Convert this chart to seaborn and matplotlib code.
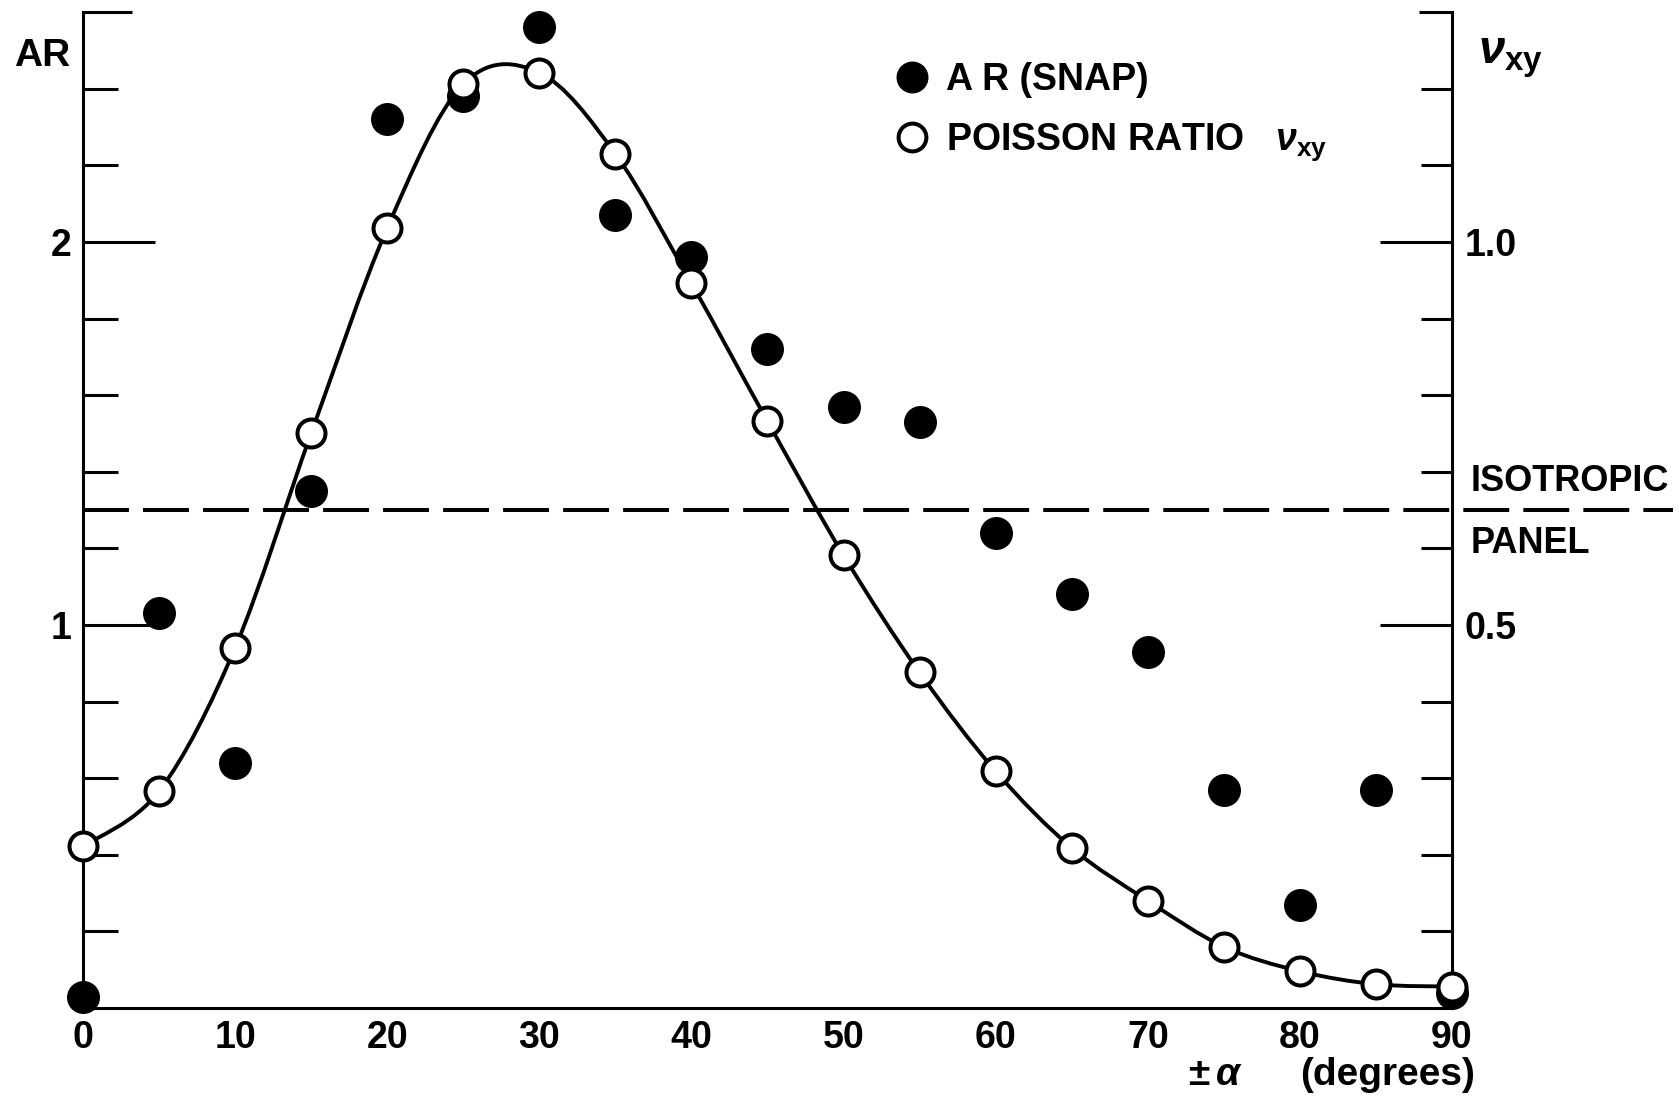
import numpy as np
import pandas as pd
import matplotlib
matplotlib.use("Agg")
import matplotlib.pyplot as plt
import seaborn as sns
from matplotlib.path import Path
from matplotlib.patches import PathPatch
from matplotlib.lines import Line2D

# Fibre angle (degrees) and measured quantities
angle_deg = [0, 5, 10, 15, 20, 25, 30, 35, 40, 45, 50, 55, 60, 65, 70, 75, 80, 85, 90]
ar_snap = [0.03, 1.03, 0.64, 1.35, 2.32, 2.38, 2.56, 2.07, 1.96, 1.72, 1.57, 1.53,
           1.24, 1.08, 0.93, 0.57, 0.27, 0.57, 0.04]
poisson_nu = [0.211, 0.283, 0.470, 0.750, 1.018, 1.206, 1.221, 1.115, 0.946, 0.766,
              0.591, 0.438, 0.309, 0.209, 0.140, 0.080, 0.048, 0.031, 0.028]
isotropic_ar = 1.30

ar_major = [1, 2]
ar_minor = [0.2, 0.4, 0.6, 0.8, 1.2, 1.4, 1.6, 1.8, 2.2, 2.4]
nu_major = [0.5, 1.0]
nu_major_labels = ["0.5", "1.0"]
nu_minor = [0.1, 0.2, 0.3, 0.4, 0.6, 0.7, 0.8, 0.9, 1.1, 1.2]
x_major = list(range(0, 91, 10))
x_minor = list(range(5, 90, 10))

df = pd.DataFrame({"angle": angle_deg, "ar": ar_snap, "nu": poisson_nu})

sns.set_theme(style="white", rc={
    "axes.edgecolor": "black", "text.color": "black",
    "xtick.color": "black", "ytick.color": "black",
    "axes.labelcolor": "black",
})
plt.rcParams["font.family"] = ["Liberation Sans", "DejaVu Sans"]
plt.rcParams["font.weight"] = "bold"
plt.rcParams["mathtext.fontset"] = "custom"
plt.rcParams["mathtext.rm"] = "Liberation Sans:bold"
plt.rcParams["mathtext.bf"] = "Liberation Sans:bold"
plt.rcParams["mathtext.it"] = "Liberation Sans:italic:bold"

LW = 2.2
fig = plt.figure(figsize=(16.79, 10.96), dpi=100)
ax = fig.add_axes([0.0494, 0.0803, 0.8154, 0.9086])
ax2 = ax.twinx()

ax.set_xlim(0, 90)
ax.set_ylim(0, 2.6)
ax2.set_ylim(0, 1.3)

# AR measured with the SNAP rig (left axis)
sns.scatterplot(data=df, x="angle", y="ar", ax=ax, color="black", s=564,
                linewidth=0, zorder=4, clip_on=False, legend=False)

# Smooth curve through the Poisson ratio values (Catmull-Rom as cubic Beziers)
def smooth_path(xs, ys):
    pts = np.column_stack([xs, ys]).astype(float)
    ext = np.vstack([pts[0], pts, pts[-1]])
    verts = [pts[0]]
    codes = [Path.MOVETO]
    for i in range(len(pts) - 1):
        p0, p1, p2, p3 = ext[i], ext[i + 1], ext[i + 2], ext[i + 3]
        verts += [p1 + (p2 - p0) / 6.0, p2 - (p3 - p1) / 6.0, p2]
        codes += [Path.CURVE4] * 3
    return Path(verts, codes)

ax2.add_patch(PathPatch(smooth_path(df["angle"], df["nu"]), fill=False,
                        edgecolor="black", lw=2.8, zorder=3,
                        transform=ax2.transData))

# Poisson ratio (right axis)
sns.scatterplot(data=df, x="angle", y="nu", ax=ax2, color="white",
                edgecolor="black", s=406, linewidth=2.9, zorder=5,
                clip_on=False, legend=False)

# Isotropic panel reference line, running out past the right axis
ax.plot([0, 104.5], [isotropic_ar, isotropic_ar], color="black", lw=2.9,
        ls=(0, (11.4, 3.5)), clip_on=False, zorder=2)
ax.annotate("ISOTROPIC", xy=(91.2, isotropic_ar), xytext=(0, 14),
            textcoords="offset points", ha="left", va="baseline",
            fontsize=26, fontweight="bold", annotation_clip=False)
ax.annotate("PANEL", xy=(91.2, isotropic_ar), xytext=(0, -31),
            textcoords="offset points", ha="left", va="baseline",
            fontsize=26, fontweight="bold", annotation_clip=False)

# Axes styling
for a in (ax, ax2):
    a.set_xlabel("")
    a.set_ylabel("")
    a.spines["top"].set_visible(False)
    for s in a.spines.values():
        s.set_linewidth(LW)
ax.spines["right"].set_visible(False)
ax2.spines["left"].set_visible(False)
ax2.spines["bottom"].set_visible(False)

ax.set_xticks(x_major)
ax.set_xticks(x_minor, minor=True)
ax.set_xticklabels([str(v) for v in x_major])
ax.tick_params(axis="x", which="both", direction="in", length=25, width=LW,
               labelsize=27, pad=9, top=False)

ax.set_yticks(ar_major)
ax.set_yticklabels([str(v) for v in ar_major])
ax.set_yticks(ar_minor, minor=True)
ax.tick_params(axis="y", which="major", direction="in", length=52, width=LW,
               labelsize=27, pad=8, right=False)
ax.tick_params(axis="y", which="minor", direction="in", length=25, width=LW,
               right=False)

ax2.set_yticks(nu_major)
ax2.set_yticklabels(nu_major_labels)
ax2.set_yticks(nu_minor, minor=True)
ax2.tick_params(axis="y", which="major", direction="in", length=52, width=LW,
                labelsize=27, pad=9, left=False)
ax2.tick_params(axis="y", which="minor", direction="in", length=22, width=LW,
                left=False)
for lbl in ax.get_xticklabels() + ax.get_yticklabels() + ax2.get_yticklabels():
    lbl.set_fontweight("bold")

# short caps at the top of both vertical axes
ax.axhline(2.6, xmin=0, xmax=0.036, color="black", lw=LW, clip_on=False,
           solid_capstyle="butt")
ax.axhline(2.6, xmin=0.976, xmax=1.0, color="black", lw=LW, clip_on=False,
           solid_capstyle="butt")

# Axis titles
fig.text(14 / 1679, 1 - 66 / 1096, "AR", fontsize=28, fontweight="bold",
         ha="left", va="baseline")
fig.text(1478 / 1679, 1 - 64 / 1096, r"$\nu_{\mathrm{xy}}$", fontsize=34,
         ha="left", va="baseline")
fig.text(1188 / 1679, 1 - 1085 / 1096, r"$\pm\,\alpha$", fontsize=28,
         ha="left", va="baseline")
fig.text(1300 / 1679, 1 - 1085 / 1096, "(degrees)", fontsize=28,
         fontweight="bold", ha="left", va="baseline")

# Legend
handles = [
    Line2D([], [], ls="none", marker="o", ms=23, mfc="black", mec="black", mew=0),
    Line2D([], [], ls="none", marker="o", ms=20, mfc="white", mec="black", mew=2.9),
]
labels = ["A R (SNAP)", r"POISSON RATIO   $\nu_{\mathrm{xy}}$"]
ax2.legend(handles, labels, loc="upper left",
           bbox_to_anchor=(893 / 1679, 1 - 62 / 1096),
           bbox_transform=fig.transFigure, frameon=False, borderpad=0,
           borderaxespad=0, handlelength=1.0, handletextpad=0.4,
           labelspacing=0.62, prop={"weight": "bold", "size": 27})

fig.savefig("out.png", dpi=100, facecolor="white")
